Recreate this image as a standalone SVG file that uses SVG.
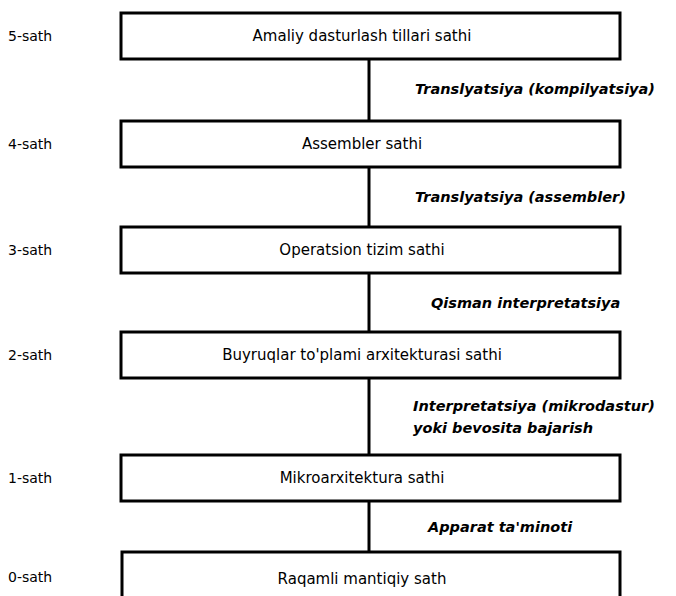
<svg xmlns="http://www.w3.org/2000/svg" width="676" height="596" viewBox="0 0 676 596">
<style>
.box{fill:#fff;stroke:#000;stroke-width:3}
.bt{font-family:"DejaVu Sans","Liberation Sans",sans-serif;font-size:15px;fill:#000;text-anchor:middle}
.lv{font-family:"DejaVu Sans","Liberation Sans",sans-serif;font-size:14px;fill:#000}
.tr{font-family:"DejaVu Sans","Liberation Sans",sans-serif;font-size:14.5px;font-weight:bold;font-style:italic;fill:#000}
.ln{stroke:#000;stroke-width:3;fill:none}
</style>
<rect width="676" height="596" fill="#fff"/>
<g id="connectors">
<line class="ln" x1="369" y1="59" x2="369" y2="121"/>
<line class="ln" x1="369" y1="167" x2="369" y2="227"/>
<line class="ln" x1="369" y1="273" x2="369" y2="332"/>
<line class="ln" x1="369" y1="378" x2="369" y2="455"/>
<line class="ln" x1="369" y1="501" x2="369" y2="552"/>
<text class="tr" x="415" y="94">Translyatsiya (kompilyatsiya)</text>
<text class="tr" x="415" y="202">Translyatsiya (assembler)</text>
<text class="tr" x="431" y="308">Qisman interpretatsiya</text>
<text class="tr" x="413" y="411">Interpretatsiya (mikrodastur)</text>
<text class="tr" x="413" y="433">yoki bevosita bajarish</text>
<text class="tr" x="428" y="532">Apparat ta'minoti</text>
</g>
<g id="level5">
<rect class="box" x="121" y="13" width="499" height="46"/>
<text class="bt" x="362" y="41">Amaliy dasturlash tillari sathi</text>
<text class="lv" x="8" y="41">5-sath</text>
</g>
<g id="level4">
<rect class="box" x="121" y="121" width="499" height="46"/>
<text class="bt" x="362" y="149">Assembler  sathi</text>
<text class="lv" x="8" y="149">4-sath</text>
</g>
<g id="level3">
<rect class="box" x="121" y="227" width="499" height="46"/>
<text class="bt" x="362" y="255">Operatsion tizim sathi</text>
<text class="lv" x="8" y="255">3-sath</text>
</g>
<g id="level2">
<rect class="box" x="121" y="332" width="499" height="46"/>
<text class="bt" x="362" y="360">Buyruqlar to'plami arxitekturasi sathi</text>
<text class="lv" x="8" y="360">2-sath</text>
</g>
<g id="level1">
<rect class="box" x="121" y="455" width="499" height="46"/>
<text class="bt" x="362" y="483">Mikroarxitektura sathi</text>
<text class="lv" x="8" y="483">1-sath</text>
</g>
<g id="level0">
<rect class="box" x="122" y="552" width="498" height="60"/>
<text class="bt" x="362" y="584">Raqamli mantiqiy sath</text>
<text class="lv" x="8" y="582">0-sath</text>
</g>
</svg>
